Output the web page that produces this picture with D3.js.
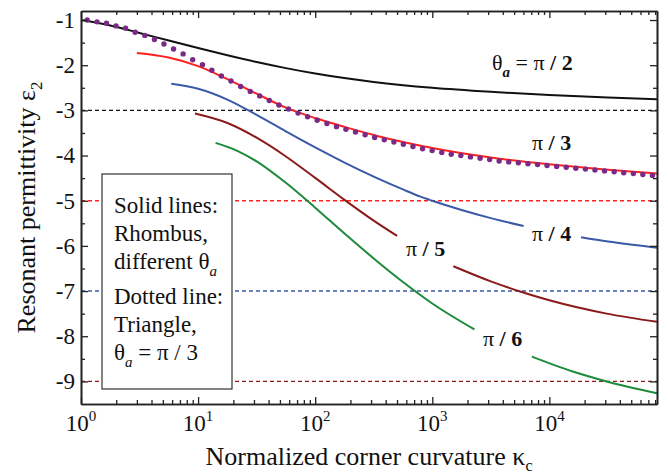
<!DOCTYPE html>
<html>
<head>
<meta charset="utf-8">
<script src="https://cdn.jsdelivr.net/npm/d3@7"></script>
<style>
  html, body { margin: 0; padding: 0; background: #fff; }
  svg { display: block; }
  svg text { font-family: "Liberation Serif", "Times New Roman", "DejaVu Serif", "Noto Serif", serif; fill: #111; white-space: pre; }
</style>
</head>
<body>
<svg id="chart" width="668" height="476"></svg>
<script>
// ---- data: resonant permittivity vs normalized corner curvature ----
// rhombus, theta_a = pi/2
const rhombusHalfPi = [[1,-1.0],[1.78,-1.12],[3.16,-1.285],[5.62,-1.455],[10,-1.62],[17.8,-1.78],[31.6,-1.93],[56.2,-2.065],[100,-2.185],[316,-2.37],[1000,-2.50],[3162,-2.59],[10000,-2.66],[31623,-2.715],[83000,-2.755]];
// rhombus, theta_a = pi/3
const rhombusThirdPi = [[3.0,-1.73],[5.6,-1.83],[10,-2.02],[17.8,-2.31],[31.6,-2.63],[56.2,-2.94],[100,-3.17],[178,-3.365],[316,-3.545],[562,-3.70],[1000,-3.835],[3162,-4.045],[10000,-4.195],[31623,-4.315],[83000,-4.40]];
// rhombus, theta_a = pi/4 (broken around its label)
const rhombusQuarterPiA = [[5.9,-2.41],[10,-2.52],[17.8,-2.76],[31.6,-3.10],[56.2,-3.465],[100,-3.82],[178,-4.155],[316,-4.465],[562,-4.75],[794,-4.91],[1000,-5.0],[1778,-5.205],[3162,-5.385],[6026,-5.56]];
const rhombusQuarterPiB = [[18621,-5.81],[31623,-5.905],[83000,-6.04]];
// rhombus, theta_a = pi/5
const rhombusFifthPiA = [[9.4,-3.07],[17.8,-3.28],[31.6,-3.605],[56.2,-4.02],[100,-4.495],[178,-4.98],[316,-5.44],[501,-5.78]];
const rhombusFifthPiB = [[1514,-6.45],[3162,-6.785],[5623,-7.01],[10000,-7.205],[31623,-7.505],[83000,-7.68]];
// rhombus, theta_a = pi/6
const rhombusSixthPiA = [[14.1,-3.72],[21.4,-3.89],[31.6,-4.128],[56.2,-4.603],[100,-5.153],[178,-5.728],[316,-6.278],[562,-6.80],[1000,-7.275],[2291,-7.85]];
const rhombusSixthPiB = [[7079,-8.45],[15849,-8.78],[30903,-9.0],[83000,-9.26]];
// triangle, theta_a = pi/3 (sampled points)
const triangleK = [1.13,1.37,1.65,1.99,2.40,2.90,3.51,4.24,5.11,6.17,7.45,8.99,10.9,13.1,15.8,19.1,23.1,27.9,33.6,40.6,49.0,59.2,71.4,86.1,104,126,152,183,221,267,322,389,470,566,684,826,998,1205,1452,1754,2118,2559,3090,3724,4498,5433,6561,7925,9550,11535,13932,16827,20324,24491,29580,35727,43152,52119,62806,75858];
const triangleEps = [-1.00,-1.04,-1.07,-1.13,-1.18,-1.27,-1.34,-1.43,-1.53,-1.64,-1.75,-1.88,-1.99,-2.11,-2.24,-2.35,-2.47,-2.58,-2.68,-2.78,-2.88,-2.97,-3.06,-3.14,-3.22,-3.29,-3.36,-3.42,-3.48,-3.54,-3.60,-3.65,-3.70,-3.75,-3.80,-3.85,-3.89,-3.93,-3.97,-4.00,-4.03,-4.06,-4.09,-4.12,-4.14,-4.16,-4.18,-4.20,-4.22,-4.24,-4.26,-4.28,-4.30,-4.32,-4.34,-4.36,-4.38,-4.40,-4.42,-4.44];
// limiting permittivities for each angle (dashed references)
const limitLevels = [-3, -5, -7, -9];
const limitColors = ["#111111", "#ff2020", "#3a5aa8", "#8b1a1a"];
// axis ticks
const yTickValues = [-1, -2, -3, -4, -5, -6, -7, -8, -9];
const yMinorValues = [-1.5, -2.5, -3.5, -4.5, -5.5, -6.5, -7.5, -8.5];
const xTickExponents = [0, 1, 2, 3, 4];

const SERIF = "'Liberation Serif','Times New Roman','DejaVu Serif','Noto Serif',serif";

// ---- scales ----
const x = d3.scaleLog().domain([1, 83000]).range([81, 657]);
const y = d3.scaleLinear().domain([-9.5, -0.8]).range([404, 11]);
const svg = d3.select("#chart");

const xMajor = xTickExponents.map(e => Math.pow(10, e));
const xMinor = [];
xTickExponents.forEach(e => { for (let m = 2; m <= 9; m++) { const v = m * Math.pow(10, e); if (v <= 83000) xMinor.push(v); } });

// ---- dashed reference levels ----
svg.append("g").selectAll("line").data(limitLevels).join("line")
  .attr("x1", x(1)).attr("x2", x(83000))
  .attr("y1", d => y(d)).attr("y2", d => y(d))
  .attr("stroke", (d, i) => limitColors[i])
  .attr("stroke-width", 1.4)
  .attr("stroke-dasharray", "4,3");

// ---- curves ----
const line = d3.line().x(d => x(d[0])).y(d => y(d[1])).curve(d3.curveMonotoneX);
const curves = [
  [rhombusHalfPi, "#111111"],
  [rhombusQuarterPiA, "#3a5aa8"], [rhombusQuarterPiB, "#3a5aa8"],
  [rhombusFifthPiA, "#8b1a1a"], [rhombusFifthPiB, "#8b1a1a"],
  [rhombusSixthPiA, "#1e8a3c"], [rhombusSixthPiB, "#1e8a3c"],
  [rhombusThirdPi, "#ff2020"]
];
svg.append("g").selectAll("path").data(curves).join("path")
  .attr("d", d => line(d[0]))
  .attr("fill", "none")
  .attr("stroke", d => d[1])
  .attr("stroke-width", 2);

// triangle dots
svg.append("g").selectAll("circle").data(triangleK).join("circle")
  .attr("cx", d => x(d))
  .attr("cy", (d, i) => y(triangleEps[i]))
  .attr("r", 2.7)
  .attr("fill", "#7a2a84");

// ---- legend box ----
const legend = svg.append("g");
legend.append("rect").attr("x", 102).attr("y", 174).attr("width", 130).attr("height", 215)
  .attr("fill", "#fff").attr("stroke", "#333").attr("stroke-width", 1.2);
function legendLine(yb, parts) {
  const t = legend.append("text").attr("x", 114).attr("y", yb)
    .attr("font-family", SERIF).attr("font-size", 23);
  parts.forEach(p => {
    const s = t.append("tspan").text(p.t);
    if (p.sub) s.attr("font-size", 15).attr("font-style", "italic").attr("dy", 7);
    if (p.back) s.attr("dy", -7);
  });
}
legendLine(213, [{t: "Solid lines:"}]);
legendLine(241, [{t: "Rhombus,"}]);
legendLine(269, [{t: "different θ"}, {t: "a", sub: true}]);
legendLine(304, [{t: "Dotted line:"}]);
legendLine(332, [{t: "Triangle,"}]);
legendLine(360, [{t: "θ"}, {t: "a", sub: true}, {t: " = π / 3", back: true}]);

// ---- curve labels ----
function curveLabel(px, yb, parts) {
  const t = svg.append("text").attr("x", px).attr("y", yb)
    .attr("font-family", SERIF).attr("font-size", 22);
  parts.forEach(p => {
    const s = t.append("tspan").text(p.t);
    if (p.bold) s.attr("font-weight", "bold");
    if (p.sub) s.attr("font-size", 15).attr("font-style", "italic").attr("font-weight", "bold").attr("dy", 7);
    if (p.back) s.attr("dy", -7);
  });
}
curveLabel(492, 70, [{t: "θ"}, {t: "a", sub: true}, {t: " = π ", back: true}, {t: "/ 2", bold: true}]);
curveLabel(532, 150, [{t: "π "}, {t: "/ 3", bold: true}]);
curveLabel(532, 241, [{t: "π "}, {t: "/ 4", bold: true}]);
curveLabel(406, 256, [{t: "π "}, {t: "/ 5", bold: true}]);
curveLabel(483, 346, [{t: "π "}, {t: "/ 6", bold: true}]);

// ---- axes (ticks pointing inward on all four sides) ----
function styleAxis(g) {
  g.select(".domain").attr("stroke", "#222").attr("stroke-width", 1.6);
  g.selectAll(".tick line").attr("stroke", "#222").attr("stroke-width", 1.3);
}
const X0 = x.range()[0], X1 = x.range()[1], Y0 = y.range()[0], Y1 = y.range()[1];

// bottom
svg.append("g").attr("transform", `translate(0,${Y0})`)
  .call(d3.axisBottom(x).tickValues(xMajor).tickSizeInner(-7).tickSizeOuter(0).tickFormat(""))
  .call(styleAxis);
svg.append("g").attr("transform", `translate(0,${Y0})`)
  .call(d3.axisBottom(x).tickValues(xMinor).tickSizeInner(-4).tickSizeOuter(0).tickFormat(""))
  .call(styleAxis);
// top
svg.append("g").attr("transform", `translate(0,${Y1})`)
  .call(d3.axisTop(x).tickValues(xMajor).tickSizeInner(-7).tickSizeOuter(0).tickFormat(""))
  .call(styleAxis);
svg.append("g").attr("transform", `translate(0,${Y1})`)
  .call(d3.axisTop(x).tickValues(xMinor).tickSizeInner(-4).tickSizeOuter(0).tickFormat(""))
  .call(styleAxis);
// left
const leftAxis = svg.append("g").attr("transform", `translate(${X0},0)`)
  .call(d3.axisLeft(y).tickValues(yTickValues).tickSizeInner(-7).tickSizeOuter(0).tickPadding(6).tickFormat(d => String(d)))
  .call(styleAxis);
leftAxis.attr("font-family", SERIF);
leftAxis.selectAll(".tick text")
  .attr("font-family", SERIF)
  .attr("font-size", 23).attr("fill", "#111");
svg.append("g").attr("transform", `translate(${X0},0)`)
  .call(d3.axisLeft(y).tickValues(yMinorValues).tickSizeInner(-4).tickSizeOuter(0).tickFormat(""))
  .call(styleAxis);
// right
svg.append("g").attr("transform", `translate(${X1},0)`)
  .call(d3.axisRight(y).tickValues(yTickValues).tickSizeInner(-7).tickSizeOuter(0).tickFormat(""))
  .call(styleAxis);
svg.append("g").attr("transform", `translate(${X1},0)`)
  .call(d3.axisRight(y).tickValues(yMinorValues).tickSizeInner(-4).tickSizeOuter(0).tickFormat(""))
  .call(styleAxis);

// x tick labels as powers of ten
const xl = svg.append("g").selectAll("text").data(xTickExponents).join("text")
  .attr("x", d => x(Math.pow(10, d)))
  .attr("y", 431)
  .attr("text-anchor", "middle")
  .attr("font-family", SERIF)
  .attr("font-size", 23);
xl.append("tspan").text("10");
xl.append("tspan").text(d => d).attr("font-size", 15).attr("dy", -10);

// ---- axis titles ----
const xt = svg.append("text").attr("x", (X0 + X1) / 2).attr("y", 465)
  .attr("text-anchor", "middle").attr("font-family", SERIF).attr("font-size", 26);
xt.append("tspan").text("Normalized corner curvature κ");
xt.append("tspan").text("c").attr("font-size", 16).attr("dy", 6);

const yt = svg.append("text")
  .attr("transform", `translate(35,${(Y0 + Y1) / 2}) rotate(-90)`)
  .attr("text-anchor", "middle").attr("font-family", SERIF).attr("font-size", 26);
yt.append("tspan").text("Resonant permittivity ε");
yt.append("tspan").text("2").attr("font-size", 17).attr("dy", 7);
</script>
</body>
</html>
